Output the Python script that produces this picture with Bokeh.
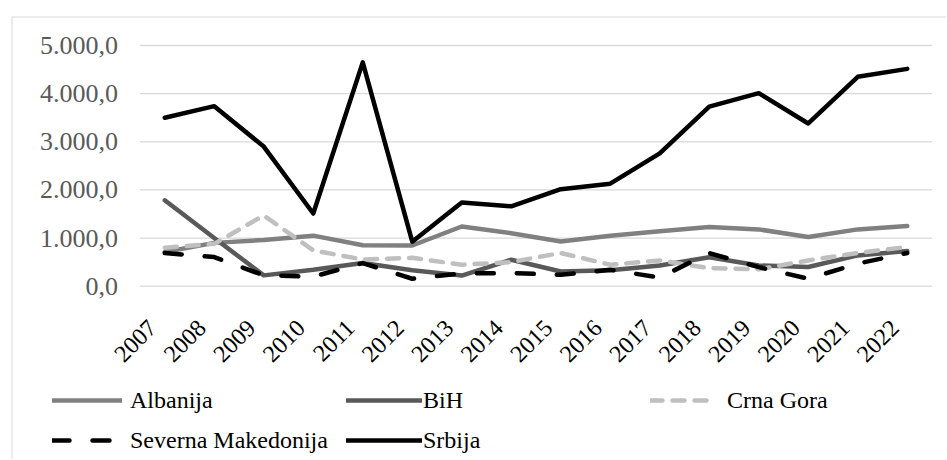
import math
from bokeh.plotting import figure
from bokeh.models import ColumnDataSource, Legend, LegendItem, Range1d, Span
from bokeh.core.properties import value
from bokeh.embed import file_html
from bokeh.resources import INLINE

# ---- data ----
years = list(range(2007, 2023))
year_labels = [str(y) for y in years]
albanija = [710, 900, 960, 1050, 850, 845, 1240, 1100, 930, 1050, 1140, 1230, 1180, 1020, 1180, 1250]
bih = [1785, 1000, 225, 340, 480, 330, 220, 550, 305, 330, 430, 600, 430, 400, 640, 730]
crna_gora = [800, 880, 1470, 745, 555, 590, 445, 500, 690, 445, 535, 375, 350, 535, 690, 815]
sev_makedonija = [690, 605, 225, 200, 480, 155, 265, 275, 237, 340, 180, 688, 396, 155, 470, 690]
srbija = [3500, 3740, 2900, 1510, 4650, 925, 1740, 1660, 2015, 2130, 2760, 3730, 4010, 3380, 4350, 4515]

y_ticks = [0, 1000, 2000, 3000, 4000, 5000]
y_tick_labels = ["0,0", "1.000,0", "2.000,0", "3.000,0", "4.000,0", "5.000,0"]

series_names = ["Albanija", "BiH", "Crna Gora", "Severna Makedonija", "Srbija"]
series_cols = ["albanija", "bih", "crna_gora", "sev_makedonija", "srbija"]

source = ColumnDataSource(dict(year=years, albanija=albanija, bih=bih, crna_gora=crna_gora,
                               sev_makedonija=sev_makedonija, srbija=srbija))

# ---- layout (pixels) ----
SERIF = "Liberation Serif"
FIG_W, FIG_H = 946, 459
FRAME_L, FRAME_T = 11, 16            # light border of the chart area
PLOT_X0, PLOT_X1 = 139.5, 931.5      # category band area
Y0_PX, YTOP_PX = 285.7, 45.0         # pixel rows of value 0 and of the top tick

px_per_year = (PLOT_X1 - PLOT_X0) / len(years)
x_start = years[0] - 0.5 - (PLOT_X0 - FRAME_L) / px_per_year
x_end = years[-1] + 0.5 + (FIG_W - PLOT_X1) / px_per_year
px_per_unit = (Y0_PX - YTOP_PX) / y_ticks[-1]
y_end = (Y0_PX - FRAME_T) / px_per_unit
y_start = -(FIG_H - Y0_PX) / px_per_unit

p = figure(width=FIG_W, height=FIG_H,
           x_range=Range1d(x_start, x_end), y_range=Range1d(y_start, y_end),
           x_axis_type=None, y_axis_type=None,
           output_backend="svg", toolbar_location=None,
           min_border_left=FRAME_L, min_border_top=FRAME_T,
           min_border_right=0, min_border_bottom=0)
p.outline_line_color = None
p.background_fill_color = "white"
p.border_fill_color = "white"

# chart-area border (left and top edges are the visible ones)
p.add_layout(Span(location=x_start, dimension="height", line_color="#d9d9d9", line_width=2))
p.add_layout(Span(location=y_end, dimension="width", line_color="#d9d9d9", line_width=2))

# horizontal gridlines across the category area
n = len(y_ticks)
p.segment(x0=[years[0] - 0.5] * n, x1=[years[-1] + 0.5] * n, y0=y_ticks, y1=y_ticks,
          line_color="#d9d9d9", line_width=1.3)

# value-axis labels
p.text(x=[years[0] - 0.5] * n, y=y_ticks, text=y_tick_labels, x_offset=-22,
       text_align="right", text_baseline="middle",
       text_font=value(SERIF), text_font_size="26px", text_color="#595959")

# category labels, rotated 45 degrees, ending at each category
p.text(x=years, y=[y_ticks[0]] * len(years), text=year_labels, angle=math.pi / 4,
       x_offset=-12, y_offset=38, text_align="right", text_baseline="middle",
       text_font=value(SERIF), text_font_size="24px", text_color="black")

LW = 4.5
styles = {
    "Albanija": dict(line_color="#808080"),
    "BiH": dict(line_color="#595959"),
    "Crna Gora": dict(line_color="#bfbfbf", line_dash="12 10"),
    "Severna Makedonija": dict(line_color="#000000", line_dash="17 23"),
    "Srbija": dict(line_color="#000000"),
}
rends = {}
for name, col in zip(series_names, series_cols):
    rends[name] = p.line("year", col, source=source, line_width=LW,
                         line_join="round", line_cap="round", **styles[name])


def make_legend(names, x, top, glyph_w, standoff):
    k = len(names)
    h = k * 28 + (k - 1) * 12
    frame_h = FIG_H - FRAME_T
    return Legend(items=[LegendItem(label=nm, renderers=[rends[nm]]) for nm in names],
                  location=(x, frame_h - top - h), orientation="vertical",
                  border_line_color=None, background_fill_alpha=0,
                  padding=0, margin=0, spacing=12,
                  glyph_width=glyph_w, glyph_height=28, label_height=28,
                  label_standoff=standoff,
                  label_text_font=SERIF, label_text_font_size="24px",
                  label_text_color="black")


LEG_TOP = 386 - FRAME_T   # top of legend rows, measured from the frame top
p.add_layout(make_legend(["Albanija", "Severna Makedonija"], 52 - FRAME_L, LEG_TOP, 70, 8), "center")
p.add_layout(make_legend(["BiH", "Srbija"], 346 - FRAME_L, LEG_TOP, 76, 1), "center")
p.add_layout(make_legend(["Crna Gora"], 650 - FRAME_L, LEG_TOP, 62, 15), "center")

open("out.html", "w").write(file_html(p, INLINE))
